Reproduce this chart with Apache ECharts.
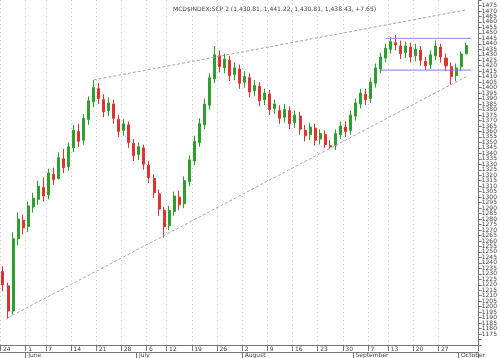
<!DOCTYPE html>
<html><head><meta charset="utf-8">
<script src="https://cdn.jsdelivr.net/npm/echarts@6/dist/echarts.min.js"></script>
<style>html,body{margin:0;padding:0;background:#fff}#c{width:500px;height:358px}</style>
</head><body><div id="c"></div>
<script>
// trading days May 24 .. Oct 4, plus two empty slots
const dates = [
'05-24','05-25','05-26','05-27','05-28',
'06-01','06-02','06-03','06-04','06-07','06-08','06-09','06-10','06-11','06-14','06-15','06-16','06-17','06-18','06-21','06-22','06-23','06-24','06-25','06-28','06-29','06-30',
'07-01','07-02','07-06','07-07','07-08','07-09','07-12','07-13','07-14','07-15','07-16','07-19','07-20','07-21','07-22','07-23','07-26','07-27','07-28','07-29','07-30',
'08-02','08-03','08-04','08-05','08-06','08-09','08-10','08-11','08-12','08-13','08-16','08-17','08-18','08-19','08-20','08-23','08-24','08-25','08-26','08-27','08-30','08-31',
'09-01','09-02','09-03','09-07','09-08','09-09','09-10','09-13','09-14','09-15','09-16','09-17','09-20','09-21','09-22','09-23','09-24','09-27','09-28','09-29','09-30',
'10-01','10-04','10-05','10-06'];
const weekLabelDates = ['05-24','06-01','06-07','06-14','06-21','06-28','07-06','07-12','07-19','07-26','08-02','08-09','08-16','08-23','08-30','09-07','09-13','09-20','09-27'];
const monthStarts = {'06-01':'June','07-01':'July','08-02':'August','09-01':'September','10-01':'October'};
const opens = [1232,1219,1196,1262,1279,1273,1291,1298,1309,1302,1321,1317,1335,1328,1345,1360,1352,1371,1387,1399,1389,1379,1385,1371,1361,1366,1349,1339,1345,1329,1317,1303,1288,1274,1287,1300,1294,1314,1333,1350,1366,1384,1408,1429,1418,1425,1412,1417,1405,1409,1397,1401,1389,1394,1381,1379,1373,1379,1368,1374,1361,1357,1363,1353,1357,1347,1347,1357,1364,1361,1374,1385,1394,1390,1404,1417,1427,1435,1441,1438,1432,1437,1429,1434,1424,1421,1429,1437,1427,1419,1411,1419,1430.81];
const closes = [1220,1196,1262,1280,1272,1292,1299,1310,1301,1322,1316,1336,1327,1346,1361,1351,1372,1388,1400,1390,1378,1386,1372,1360,1367,1350,1338,1346,1330,1318,1304,1289,1273,1288,1301,1293,1315,1334,1351,1367,1385,1409,1430,1419,1426,1411,1418,1404,1410,1396,1402,1388,1395,1380,1385,1372,1380,1367,1375,1362,1356,1364,1352,1358,1348,1346,1358,1365,1360,1375,1386,1395,1389,1405,1418,1428,1436,1442,1439,1431,1438,1428,1435,1425,1420,1430,1438,1428,1420,1410,1418,1430.78,1438.43];
const lows = [1214,1189,1193,1256,1266,1268,1286,1293,1296,1298,1311,1316,1322,1324,1341,1346,1348,1366,1382,1385,1373,1374,1367,1355,1356,1345,1333,1334,1325,1313,1299,1283,1263,1270,1283,1288,1290,1310,1329,1346,1362,1380,1404,1414,1413,1406,1407,1399,1400,1391,1392,1383,1384,1375,1376,1367,1368,1362,1363,1357,1351,1352,1347,1348,1345,1344,1343,1353,1355,1357,1370,1381,1384,1386,1400,1413,1423,1431,1434,1426,1427,1423,1424,1420,1416,1417,1425,1423,1415,1403,1406,1415,1430.81];
const highs = [1237,1222,1268,1286,1284,1296,1304,1315,1318,1326,1327,1341,1344,1350,1366,1367,1376,1392,1407,1404,1394,1391,1389,1375,1371,1369,1353,1350,1348,1333,1321,1307,1291,1292,1305,1306,1319,1338,1356,1372,1390,1413,1438,1434,1431,1429,1423,1421,1415,1413,1407,1405,1399,1398,1389,1384,1385,1383,1379,1378,1366,1368,1367,1362,1361,1352,1362,1369,1369,1379,1390,1399,1399,1409,1422,1432,1440,1446,1448,1443,1442,1441,1440,1438,1428,1434,1443,1440,1431,1423,1422,1433,1441.22];
// trendlines [category index, value]
const upperTrend = [[18,1407],[92,1471]];
const lowerTrend = [[1,1190],[92,1410]];
const resistance = [[76,1445],[93,1445]];
const support = [[75,1416],[93,1416]];
const title = 'MCD$INDEX:SCP 2 (1,430.81, 1,441.22, 1,430.81, 1,438.43, +7.65)';

const candles = opens.map((o,i)=>[o, closes[i], lows[i], highs[i]]);
const weekSet = new Set(weekLabelDates.map(d=>dates.indexOf(d)));
const monthSet = new Set(Object.keys(monthStarts).map(d=>dates.indexOf(d)));

const chart = echarts.init(document.getElementById('c'), null, {renderer:'canvas'});
chart.setOption({
  animation:false,
  backgroundColor:'#fff',
  title:{text:title,left:168,top:1,textStyle:{fontSize:6,fontWeight:'normal',color:'#444',fontFamily:'DejaVu Sans'}},
  grid:{left:0,right:18,top:0,bottom:13},
  xAxis:[{
    type:'category',data:dates,boundaryGap:true,position:'bottom',
    axisLine:{show:true,lineStyle:{color:'#777',width:1}},
    axisTick:{show:true,interval:(i)=>weekSet.has(i),length:6,lineStyle:{color:'#777'}},
    axisLabel:{interval:(i)=>weekSet.has(i),formatter:(v)=>String(parseInt(v.slice(3),10)),fontSize:6,margin:1,align:'left',color:'#444',fontFamily:'DejaVu Sans'},
    splitLine:{show:true,interval:(i)=>weekSet.has(i),lineStyle:{color:'#d0d0d0',type:[1,3],width:1}}
  },{
    type:'category',data:dates,boundaryGap:true,position:'bottom',offset:7,
    axisLine:{show:true,lineStyle:{color:'#777',width:1}},
    axisTick:{show:true,interval:(i)=>monthSet.has(i),length:6,lineStyle:{color:'#777'}},
    axisLabel:{interval:(i)=>monthSet.has(i),formatter:(v)=>monthStarts[v]||'',fontSize:6,margin:0,align:'left',color:'#444',fontFamily:'DejaVu Sans'},
    splitLine:{show:false}
  }],
  yAxis:{
    type:'value',position:'right',min:1165,max:1480,interval:5,
    axisLine:{show:true,lineStyle:{color:'#777'}},
    axisTick:{show:true,length:3,lineStyle:{color:'#777'}},
    axisLabel:{fontSize:6,margin:3,color:'#444',fontFamily:'DejaVu Sans',
      formatter:(v)=> (v>=1175 && v<=1475) ? String(v) : ''},
    splitLine:{show:false}
  },
  series:[
    {type:'candlestick',data:candles,barMaxWidth:3,
     itemStyle:{color:'#2e9e2e',color0:'#dd3333',borderColor:'#2e9e2e',borderColor0:'#dd3333',borderWidth:1}},
    {type:'line',data:upperTrend,symbol:'none',lineStyle:{color:'#b89a9a',width:1,type:[3,2]},silent:true},
    {type:'line',data:lowerTrend,symbol:'none',lineStyle:{color:'#a8a8a8',width:1,type:[3,2]},silent:true},
    {type:'line',data:resistance,symbol:'none',z:5,lineStyle:{color:'#9b7fe6',width:1},silent:true},
    {type:'line',data:support,symbol:'none',z:5,lineStyle:{color:'#8a7ae6',width:1},silent:true}
  ]
});
</script></body></html>
